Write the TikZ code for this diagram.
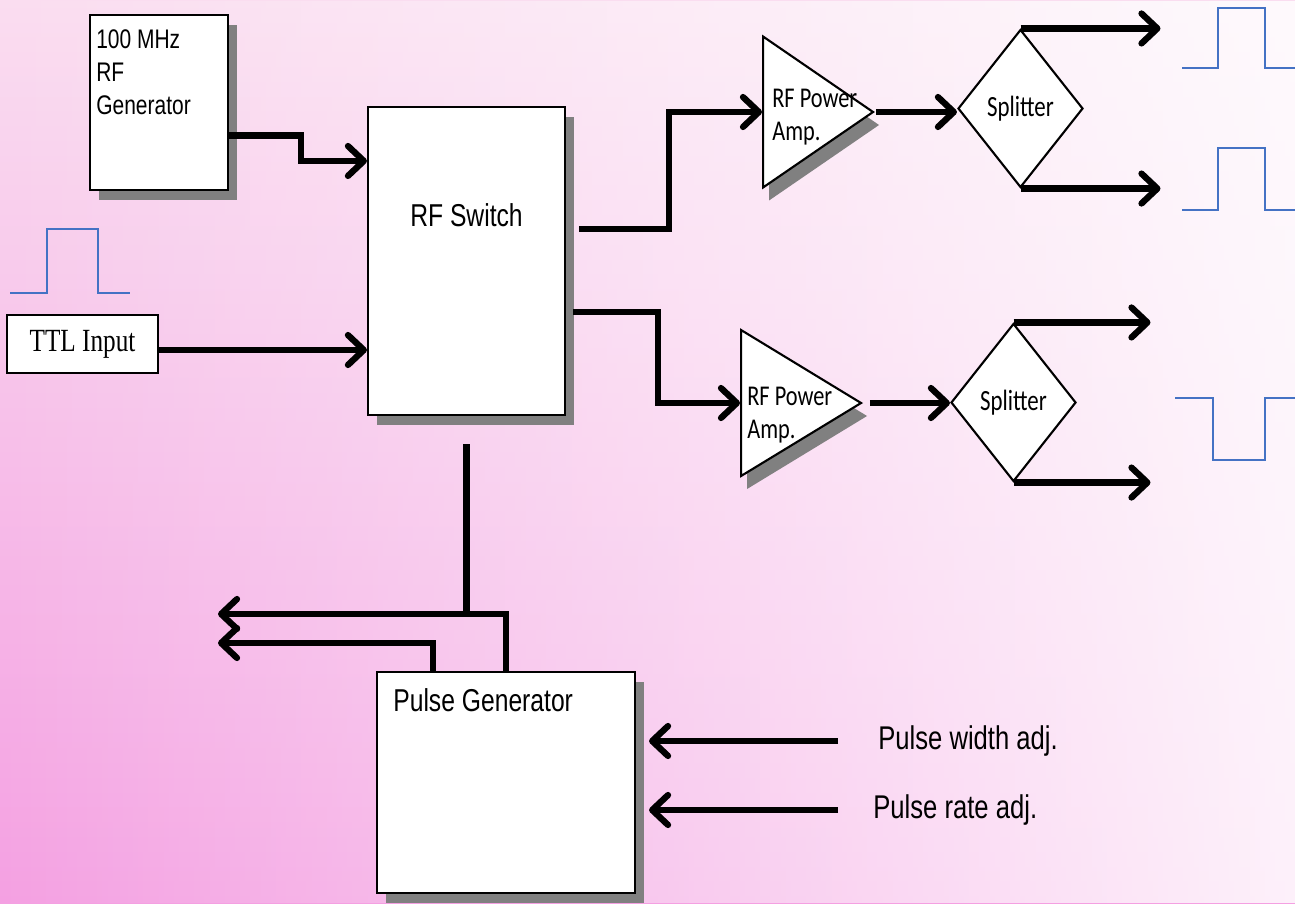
\documentclass[tikz,border=0pt]{standalone}
\usepackage{fontspec}
\usepackage{tikz}
\usetikzlibrary{positioning,arrows.meta,calc,shapes.geometric,shadows,fadings}
\newfontfamily\arialfont[FakeStretch=0.78]{Liberation Sans}
\newfontfamily\timesfont[FakeStretch=0.78]{Liberation Serif}
\newfontfamily\calibrifont[FakeStretch=0.78]{Carlito}
\definecolor{colBgPink}{HTML}{F4A0E2}
\definecolor{colBgTop}{HTML}{FADDF0}
\definecolor{colPulseBlue}{HTML}{4472C4}
\definecolor{colShadow}{HTML}{808080}

\begin{document}
\begin{tikzpicture}[x=0.02cm, y=-0.02cm,
        plainbox/.style={draw, fill=white, line width=1.2pt, inner sep=0pt},
        box/.style={plainbox,
            drop shadow={shadow xshift=0.18cm, shadow yshift=-0.2cm, fill=colShadow, opacity=1}},
        boxtext/.style={font=\arialfont\fontsize{18}{22}\selectfont, align=left, inner sep=4pt},
        amp/.style={draw, fill=white, line width=1.2pt, isosceles triangle, isosceles triangle stretches,
            minimum height=2.2cm, minimum width=3.02cm, inner sep=0pt, anchor=west,
            drop shadow={shadow xshift=0.12cm, shadow yshift=-0.26cm, fill=colShadow, opacity=1}},
        amptext/.style={font=\calibrifont\fontsize{16.3}{18.7}\selectfont, align=left, inner sep=0pt},
        splitter/.style={draw, fill=white, diamond, line width=1.2pt, minimum width=2.5cm,
            minimum height=3.16cm, inner sep=0pt, font=\calibrifont\fontsize{16.7}{20}\selectfont},
        adjtext/.style={font=\arialfont\fontsize{18.7}{22}\selectfont, inner sep=0pt},
        wire/.style={line width=3.6pt},
        arr/.style={-{Straight Barb[length=9pt, width=17pt, round]}, line width=3.6pt},
        pulse/.style={draw=colPulseBlue, line width=1.2pt}
    ]

    % Fondo
    \useasboundingbox (0,0) rectangle (1295,903);
    \shade[top color=colBgTop, bottom color=colBgPink] (0,0) rectangle (1295,903);
    \fill[white, path fading=west, fill opacity=0.85] (0,0) rectangle (1295,903);

    % Bloques
    \node[box, minimum width=2.76cm, minimum height=3.5cm,
        label={[boxtext, anchor=north west, yshift=-0.16cm, font=\arialfont\fontsize{15.3}{18.9}\selectfont]north west:100 MHz\\RF\\Generator}]
        (rfg) at (159,102.5) {};
    \node[plainbox, minimum width=3.02cm, minimum height=1.16cm,
        font=\timesfont\fontsize{18.4}{22}\selectfont] (ttl) at (82.5,344) {TTL Input\hspace{0.15cm}};
    \node[box, minimum width=3.94cm, minimum height=6.16cm,
        label={[boxtext, anchor=north, yshift=-1.8cm]north:RF Switch}]
        (sw) at (466.5,261) {};
    \node[box, minimum width=5.16cm, minimum height=4.42cm,
        label={[boxtext, anchor=north west, xshift=0.2cm, yshift=-0.2cm]north west:Pulse Generator}]
        (pg) at (506,782.5) {};

    % Amplificadores
    \node[amp] (a1) at (762,112) {};
    \node[amp, minimum height=2.4cm, minimum width=2.92cm] (a2) at (740,403) {};
    \node[amptext, anchor=west] (a1t) at ([xshift=0.2cm, yshift=-0.1cm]a1.west) {RF Power\\Amp.};
    \node[amptext, anchor=west] (a2t) at ([xshift=0.14cm, yshift=-0.24cm]a2.west) {RF Power\\Amp.};

    % Divisores
    \node[splitter] (sp1) at (1020.5,108.5) {Splitter};
    \node[splitter] (sp2) at (1013.5,402.5) {Splitter};

    % Textos de ajuste
    \node[adjtext, anchor=west] (pw) at (878,741) {Pulse width adj.};
    \node[adjtext, anchor=west] (pr) at (873,810) {Pulse rate adj.};

    % Pulsos
    \draw[pulse] (10,293) -- (47,293) -- (47,229) -- (98,229) -- (98,293) -- (130,293);
    \draw[pulse] (1182,68) -- (1218,68) -- (1218,8) -- (1265,8) -- (1265,68) -- (1295,68);
    \draw[pulse] (1182,210) -- (1218,210) -- (1218,148) -- (1265,148) -- (1265,210) -- (1295,210);
    \draw[pulse] (1175,398) -- (1213,398) -- (1213,460) -- (1265,460) -- (1265,398) -- (1295,398);

    % Conexiones hacia el conmutador
    \draw[arr] ([yshift=-0.66cm]rfg.east) -- ++(72,0) |- ([yshift=-1.1cm]sw.north west);
    \draw[arr] ([yshift=-0.12cm]ttl.east) -- ([yshift=-0.12cm]ttl.east -| sw.west);

    % Conexiones conmutador -> amplificadores
    \draw[arr] ([xshift=0.26cm, yshift=-2.46cm]sw.north east) -- ++(90,0) |- (a1.west);
    \draw[arr] ([xshift=0.14cm, yshift=-4.12cm]sw.north east) -- ++(85,0) |- (a2.west);

    % Conexiones amplificadores -> divisores
    \draw[arr] (a1.apex) -- (a1.apex -| sp1.west);
    \draw[arr, shorten <=0.12cm] (a2.apex) -- (a2.apex -| sp2.west);

    % Salidas de los divisores
    \draw[arr] (sp1.north) -- ++(140,0);
    \draw[arr] (sp1.south) -- ++(140,0);
    \draw[arr] (sp2.north) -- ++(137,0);
    \draw[arr] (sp2.south) -- ++(137,0);

    % Generador de pulsos
    \coordinate (swTap) at ([yshift=-0.56cm]sw.south);
    \coordinate (outA) at (218,614);
    \coordinate (outB) at (218,643);
    \draw[arr] (pg.north) |- (outA);
    \draw[arr] ([xshift=-1.46cm]pg.north) |- (outB);
    \draw[wire] (swTap) -- (swTap |- outA);
    \draw[arr, shorten <=0.8cm, shorten >=0.26cm] (pw.west) -- (pw.west -| pg.east);
    \draw[arr, shorten <=0.7cm, shorten >=0.26cm] (pr.west) -- (pr.west -| pg.east);

\end{tikzpicture}
\end{document}
